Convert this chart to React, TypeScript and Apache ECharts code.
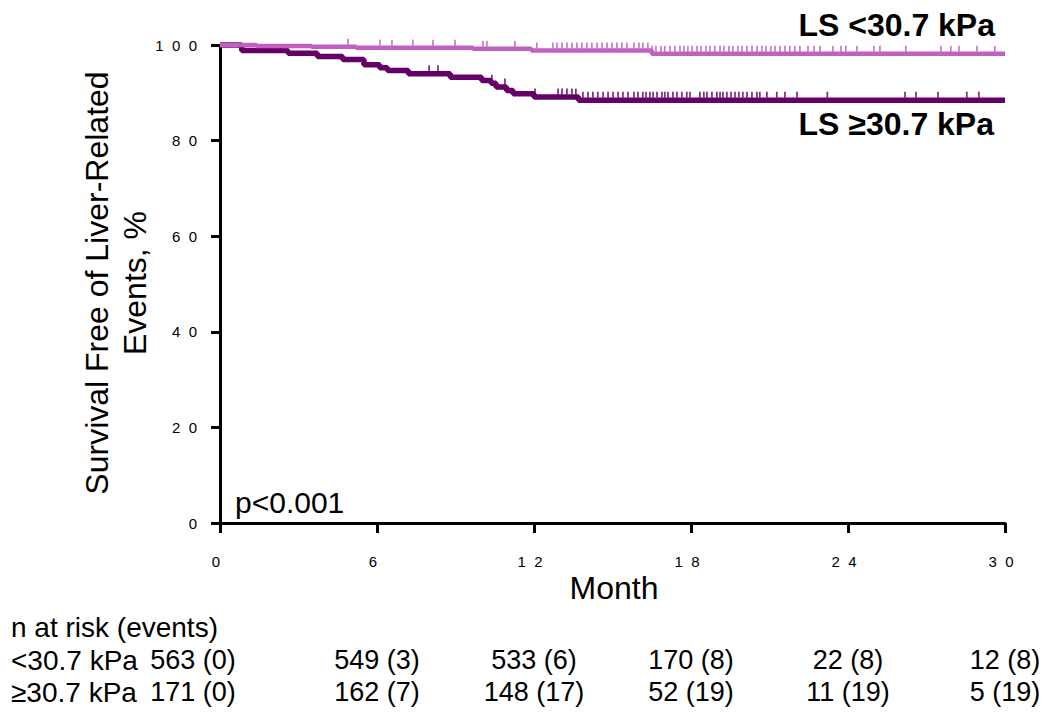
import React, { useEffect, useRef } from "react";
import * as echarts from "echarts";

// ---- data ----
const tickMonths = [0, 6, 12, 18, 24, 30];

// Kaplan-Meier curves: [month, survival %] (value holds from that month onward)
const lowCurve: [number, number][] = [
  [0, 100], [1.4, 99.8], [3.5, 99.65], [5.2, 99.45], [9.67, 99.2], [11.9, 98.85], [16.5, 98.15], [30, 98.15],
];
const highCurve: [number, number][] = [
  [0, 100], [0.83, 98.85], [2.6, 98.25], [3.72, 97.6], [4.69, 96.95], [5.5, 95.85], [6.1, 95.25],
  [6.4, 94.65], [7.2, 94.0], [8.8, 93.25], [10.0, 92.55], [10.36, 92.0], [10.55, 91.2], [10.95, 90.5],
  [11.2, 89.8], [12.0, 89.1], [13.7, 88.45], [30, 88.45],
];

// censoring marks (months)
const lowCensor = [
  4.89, 6.11, 6.57, 7.37, 8.14, 8.98, 10.05, 10.2, 11.27, 12.11, 12.72, 12.88, 13.07, 13.26, 13.45, 13.64,
  13.83, 14.02, 14.21, 14.41, 14.6, 14.79, 14.98, 15.17, 15.36, 15.55, 15.82, 16.01, 16.16, 16.35, 16.51,
  16.66, 16.85, 17.0, 17.2, 17.39, 17.58, 17.73, 17.88, 18.04, 18.23, 18.38, 18.57, 18.72, 18.91, 19.11,
  19.26, 19.45, 19.6, 19.79, 19.95, 20.14, 20.33, 20.52, 20.71, 20.86, 21.05, 21.21, 21.4, 21.59, 21.78,
  21.97, 22.16, 22.47, 22.7, 22.93, 23.42, 23.73, 23.92, 24.34, 24.99, 25.22, 26.21, 27.55, 27.93, 28.24,
  28.93, 29.61,
];
const highCensor = [
  7.99, 8.33, 10.39, 10.89, 12.04, 12.92, 13.07, 13.26, 13.45, 13.6, 13.87, 14.06, 14.25, 14.44, 14.64,
  14.83, 15.02, 15.21, 15.4, 15.59, 15.82, 15.97, 16.16, 16.28, 16.43, 16.55, 16.7, 16.89, 17.0, 17.12,
  17.31, 17.46, 17.65, 17.84, 17.96, 18.34, 18.49, 18.61, 18.8, 18.99, 19.11, 19.22, 19.37, 19.53, 19.68,
  19.83, 19.98, 20.14, 20.33, 20.52, 20.63, 20.9, 21.28, 21.59, 22.05, 23.21, 26.18, 26.6, 27.44, 28.54, 29.0,
];

// number at risk table
const riskTitle = "n at risk (events)";
const riskGroups = ["<30.7 kPa", "≥30.7 kPa"];
const atRiskLow = [563, 549, 533, 170, 22, 12];
const eventsLow = [0, 3, 6, 8, 8, 8];
const atRiskHigh = [171, 162, 148, 52, 11, 5];
const eventsHigh = [0, 7, 17, 19, 19, 19];

const curveLabels = ["LS <30.7 kPa", "LS ≥30.7 kPa"];
const yTitle = "Survival Free of Liver-Related\nEvents, %";
const xTitle = "Month";
const pText = "p<0.001";

// ---- style ----
const LIGHT = "#C060C0";
const DARK = "#660066";
const FONT = "'Liberation Sans', Arial, Helvetica, sans-serif";

function survivalAt(curve: [number, number][], t: number): number {
  let s = curve[0][1];
  for (const [x, y] of curve) {
    if (x <= t) s = y;
    else break;
  }
  return s;
}

function spaced(v: number): string {
  return String(v).split("").join("  ");
}

export default function App() {
  const ref = useRef<HTMLDivElement>(null);

  useEffect(() => {
    if (!ref.current) return;
    const chart = echarts.init(ref.current, undefined, { renderer: "svg" });

    const axisCommon = {
      axisLine: { show: true, onZero: false, lineStyle: { color: "#000", width: 3 } },
      axisTick: { show: true, inside: false, lineStyle: { color: "#000", width: 3 } },
      splitLine: { show: false },
    };

    chart.setOption({
      animation: false,
      backgroundColor: "#fff",
      grid: { left: 220, right: 45, top: 45, bottom: 194 },
      xAxis: {
        type: "value",
        min: 0,
        max: 30,
        interval: 6,
        ...axisCommon,
        axisTick: { ...axisCommon.axisTick, length: 10 },
        axisLabel: {
          margin: 31,
          fontSize: 15,
          color: "#000",
          fontFamily: FONT,
          padding: [0, 8, 0, 0],
          formatter: (v: number) => spaced(v),
        },
      },
      yAxis: {
        type: "value",
        min: 0,
        max: 100,
        interval: 20,
        ...axisCommon,
        axisTick: { ...axisCommon.axisTick, length: 9 },
        axisLabel: {
          margin: 23,
          fontSize: 15,
          color: "#000",
          fontFamily: FONT,
          padding: [8, 0, 0, 0],
          formatter: (v: number) => spaced(v),
        },
      },
      series: [
        {
          type: "line",
          data: lowCurve,
          step: "end",
          showSymbol: false,
          clip: false,
          z: 4,
          lineStyle: { color: LIGHT, width: 4.5 },
        },
        {
          type: "line",
          data: highCurve,
          step: "end",
          showSymbol: false,
          clip: false,
          z: 3,
          lineStyle: { color: DARK, width: 5.5 },
        },
        {
          type: "scatter",
          data: lowCensor.map((t) => [t, survivalAt(lowCurve, t)]),
          symbol: "rect",
          symbolSize: [1.8, 6],
          symbolOffset: [0, -5],
          clip: false,
          z: 5,
          itemStyle: { color: LIGHT },
        },
        {
          type: "scatter",
          data: highCensor.map((t) => [t, survivalAt(highCurve, t)]),
          symbol: "rect",
          symbolSize: [1.8, 6],
          symbolOffset: [0, -5.5],
          clip: false,
          z: 5,
          itemStyle: { color: DARK },
        },
      ],
    });

    const colX = tickMonths.map((t) => chart.convertToPixel({ xAxisIndex: 0 }, t) as number);
    const colCenters = colX.map((x, i) => (i === 0 ? x - 27 : x));

    const txt = (text: string, x: number, y: number, opts: any = {}) => ({
      type: "text",
      x,
      y,
      silent: true,
      style: {
        text,
        fill: "#000",
        fontFamily: FONT,
        fontSize: 28,
        align: "left",
        verticalAlign: "middle",
        ...opts,
      },
    });

    const graphics: any[] = [
      txt(curveLabels[0], 995, 25, { fontSize: 32, fontWeight: "bold", align: "right" }),
      txt(curveLabels[1], 994, 124, { fontSize: 32, fontWeight: "bold", align: "right" }),
      txt(pText, 235, 502, { fontSize: 30 }),
      txt(xTitle, 614, 588, { fontSize: 32, align: "center" }),
      {
        type: "text",
        x: 116,
        y: 283,
        rotation: Math.PI / 2,
        silent: true,
        style: {
          text: yTitle,
          fill: "#000",
          fontFamily: FONT,
          fontSize: 32,
          lineHeight: 38,
          align: "center",
          verticalAlign: "middle",
        },
      },
      txt(riskTitle, 11, 627),
      txt(riskGroups[0], 11, 660),
      txt(riskGroups[1], 11, 692),
    ];
    colCenters.forEach((cx, i) => {
      graphics.push(txt(`${atRiskLow[i]} (${eventsLow[i]})`, cx, 660, { align: "center", fontSize: 27 }));
      graphics.push(txt(`${atRiskHigh[i]} (${eventsHigh[i]})`, cx, 692, { align: "center", fontSize: 27 }));
    });

    chart.setOption({ graphic: graphics });

    return () => chart.dispose();
  }, []);

  return (
    <div
      ref={ref}
      style={{ position: "absolute", left: 0, top: 0, width: 1050, height: 717 }}
    />
  );
}
